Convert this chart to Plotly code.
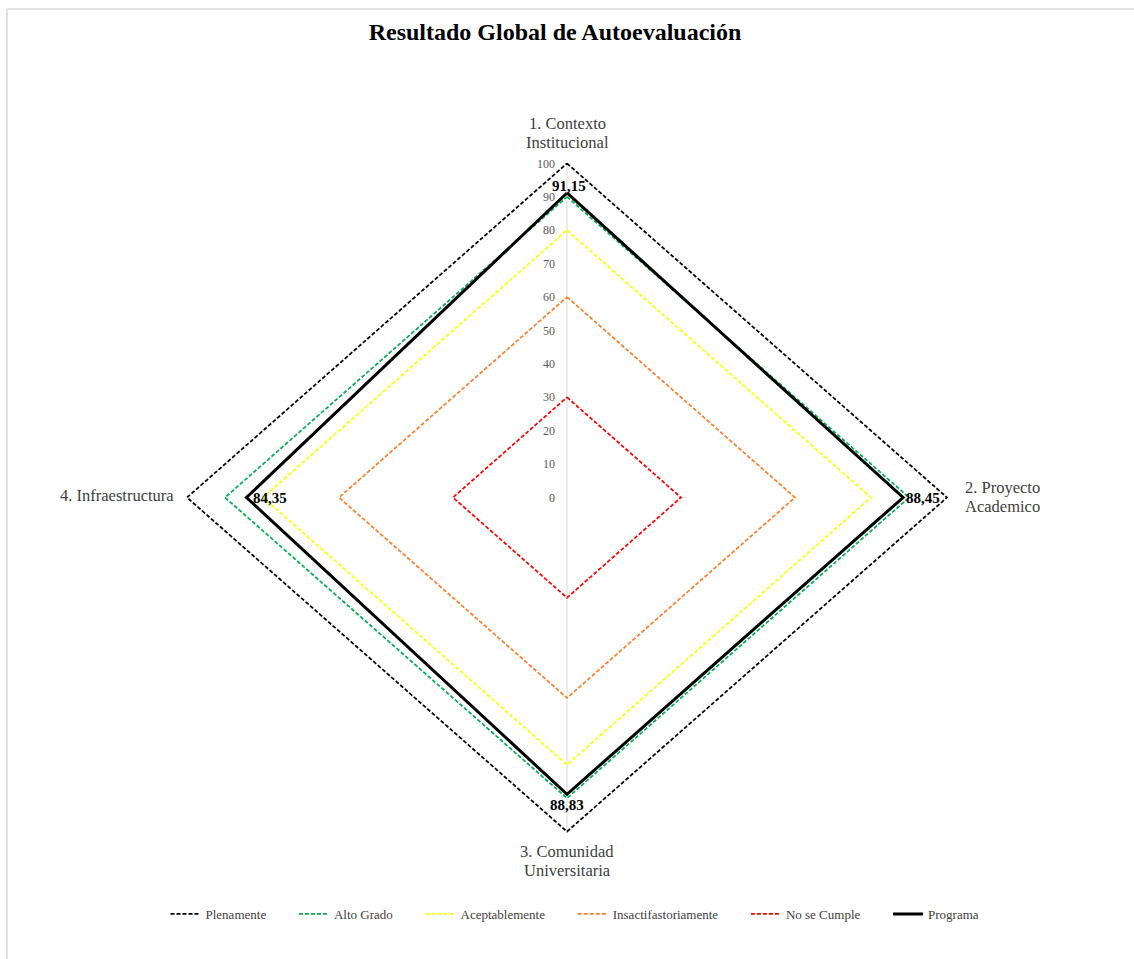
import plotly.graph_objects as go
import math

# ---------------- data ----------------
categories = ["1. Contexto<br>Institucional", "2. Proyecto<br>Academico",
              "3. Comunidad<br>Universitaria", "4. Infraestructura"]
series_names = ["Plenamente", "Alto Grado", "Aceptablemente",
                "Insactifastoriamente", "No se Cumple", "Programa"]
plenamente = [100, 100, 100, 100]
alto_grado = [90, 90, 90, 90]
aceptablemente = [80, 80, 80, 80]
insatisfactorio = [60, 60, 60, 60]
no_cumple = [30, 30, 30, 30]
programa = [91.15, 88.45, 88.83, 84.35]
tick_values = [0, 10, 20, 30, 40, 50, 60, 70, 80, 90, 100]

# ---------------- styling ----------------
FONT = "Liberation Serif, Times New Roman, serif"
W, H = 1134, 959
ML, MR, MT, MB = 149, 149, 130, 94
RNG = 110
PAD = "\u00a0" * 7  # extra spacing after legend entries

colors = ["#000000", "#00B050", "#FFFF00", "#FF7F27", "#FF0000", "#000000"]
values = [plenamente, alto_grado, aceptablemente, insatisfactorio, no_cumple, programa]

# axis directions: up, right, down, left
angles = [i * 2 * math.pi / len(categories) for i in range(len(categories))]


def to_xy(vals):
    xs = [v * math.sin(a) for v, a in zip(vals, angles)]
    ys = [v * math.cos(a) for v, a in zip(vals, angles)]
    return xs + xs[:1], ys + ys[:1]


fig = go.Figure()

for i, (name, vals, col) in enumerate(zip(series_names, values, colors)):
    xs, ys = to_xy(vals)
    legend_name = name if i == len(series_names) - 1 else name + PAD
    if name == "Programa":
        fig.add_trace(go.Scatter(
            x=xs, y=ys, name=legend_name, mode="lines",
            line=dict(color=col, width=3),
            cliponaxis=False, hoverinfo="skip"))
    else:
        fig.add_trace(go.Scatter(
            x=xs, y=ys, name=legend_name, mode="lines",
            line=dict(color=col, width=1.75, dash="4px,2px"),
            cliponaxis=False, hoverinfo="skip"))

# data labels for Programa
px_, py_ = to_xy(programa)
dl_specs = [
    dict(xanchor="center", yanchor="bottom", xshift=2, yshift=-3),
    dict(xanchor="left", yanchor="middle", xshift=1, yshift=0),
    dict(xanchor="center", yanchor="top", xshift=0, yshift=-1),
    dict(xanchor="left", yanchor="middle", xshift=5, yshift=0),
]
for xv, yv, v, spec in zip(px_[:-1], py_[:-1], programa, dl_specs):
    fig.add_annotation(text="<b>" + f"{v:.2f}".replace(".", ",") + "</b>",
                       x=xv, y=yv, xref="x", yref="y", showarrow=False,
                       font=dict(family=FONT, size=15, color="#000000"), **spec)

# vertical radial axis line
fig.add_shape(type="line", xref="x", yref="y", x0=0, x1=0, y0=-100, y1=100,
              line=dict(color="#D9D9D9", width=1), layer="below")

# category labels (one annotation per text line for tight line spacing)
label_specs = [
    dict(x=0, y=100, xanchor="center", xshift=0, yshifts=[40, 21]),
    dict(x=100, y=0, xanchor="left", xshift=17, yshifts=[10, -9]),
    dict(x=0, y=-100, xanchor="center", xshift=0, yshifts=[-20, -39]),
    dict(x=-100, y=0, xanchor="right", xshift=-12, yshifts=[2]),
]
for cat, spec in zip(categories, label_specs):
    for line_text, ys in zip(cat.split("<br>"), spec["yshifts"]):
        fig.add_annotation(text=line_text, xref="x", yref="y", showarrow=False,
                           x=spec["x"], y=spec["y"], xanchor=spec["xanchor"],
                           yanchor="middle", xshift=spec["xshift"], yshift=ys,
                           borderpad=0,
                           font=dict(family=FONT, size=16.5, color="#404040"))

# chart-area border (top and left edges visible)
pw = W - ML - MR
ph = H - MT - MB
def px_x(p):
    return (p - ML) / pw
def px_y(p):
    return (H - MB - p) / ph
fig.add_shape(type="line", xref="paper", yref="paper",
              x0=px_x(7), x1=px_x(W + 5), y0=px_y(9), y1=px_y(9),
              line=dict(color="#D9D9D9", width=1.5))
fig.add_shape(type="line", xref="paper", yref="paper",
              x0=px_x(7), x1=px_x(7), y0=px_y(9), y1=px_y(H + 5),
              line=dict(color="#D9D9D9", width=1.5))

fig.update_layout(
    template="none",
    width=W, height=H,
    margin=dict(l=ML, r=MR, t=MT, b=MB),
    paper_bgcolor="white", plot_bgcolor="white",
    font=dict(family=FONT, color="#404040"),
    title=dict(text="<b>Resultado Global de Autoevaluación</b>",
               x=555 / W, xref="container", xanchor="center",
               y=1 - 32 / H, yref="container", yanchor="middle",
               font=dict(family=FONT, size=24, color="#000000")),
    xaxis=dict(range=[-RNG, RNG], visible=False, showgrid=False, zeroline=False),
    yaxis=dict(range=[-RNG, RNG], anchor="free", position=0.5,
               tickvals=tick_values, ticktext=[str(t) for t in tick_values],
               showgrid=False, zeroline=False, showline=False, ticks="",
               ticklabelstandoff=12,
               tickfont=dict(family=FONT, size=12, color="#595959")),
    legend=dict(orientation="h", x=0.5 + 8 / pw, xanchor="center",
                y=px_y(914), yanchor="middle",
                font=dict(family=FONT, size=13, color="#404040"),
                itemwidth=30, tracegroupgap=0, bgcolor="rgba(0,0,0,0)"),
    showlegend=True,
)

fig.write_html("out.html", post_script="document.body.style.margin='0';",
               config={"displayModeBar": False})
